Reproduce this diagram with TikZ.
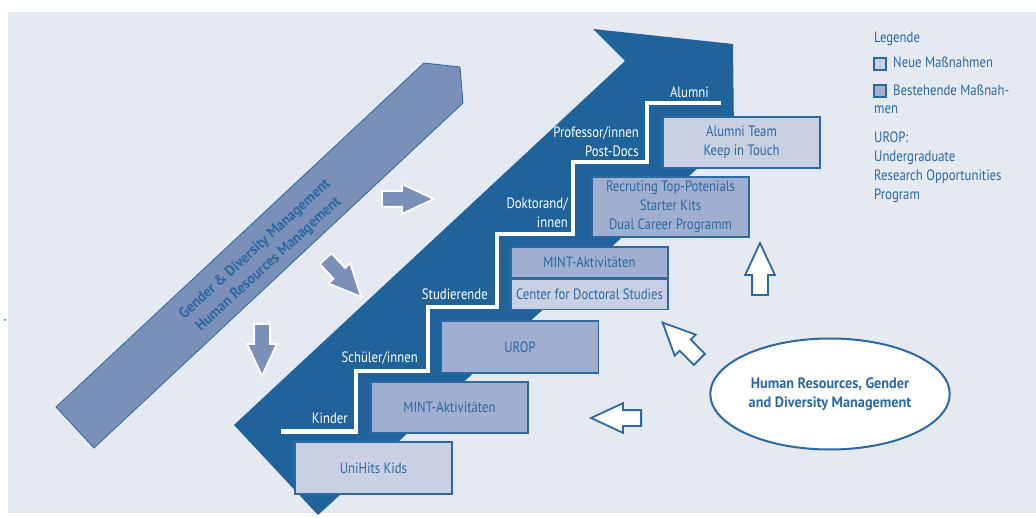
\documentclass[tikz,border=0pt]{standalone}
\usepackage{fontspec}
\setmainfont{PT Sans}[FakeStretch=0.85, BoldFeatures={FakeStretch=0.95}]
\usepackage{tikz}
\usetikzlibrary{shapes,arrows,positioning}

\definecolor{bgblue}{RGB}{228,233,242}
\definecolor{darkblue}{RGB}{31,99,154}
\definecolor{lineblue}{RGB}{44,104,162}
\definecolor{bandblue}{RGB}{122,144,184}
\definecolor{newfill}{RGB}{201,208,228}
\definecolor{oldfill}{RGB}{160,175,207}

\begin{document}
\begin{tikzpicture}[
            x=1pt, y=-1pt,
            txt/.style={font=\fontsize{15}{19}\selectfont},
            measure/.style={rectangle, draw=lineblue, line width=1.2pt, text=lineblue, minimum width=157pt, align=center, inner sep=0pt, txt},
            newbox/.style={measure, fill=newfill},
            oldbox/.style={measure, fill=oldfill},
            steplabel/.style={txt, text=white, align=right, inner sep=0pt},
            legendtxt/.style={txt, text=lineblue, align=left, inner sep=0pt},
            legendkey/.style={rectangle, draw=lineblue, line width=2pt, minimum size=12pt, inner sep=0pt},
            pusharrow/.style={single arrow, draw=white, line width=1.8pt, fill=bandblue, inner sep=7pt, minimum height=52pt, single arrow head extend=7pt, single arrow tip angle=50, anchor=tail},
            pullarrow/.style={pusharrow, draw=lineblue, fill=white}
        ]
            % background
            \useasboundingbox (0,0) rectangle (1036,518);
            \fill[bgblue] (8,12) rectangle (1036,513);
            \fill[darkblue] (5,320) circle (1pt);

            % light band and career arrow
            \draw[lineblue, fill=bandblue, line width=0.8pt] (424,63) -- (460,67) -- (463,103) -- (94,448) -- (56,407) -- cycle;
            \fill[darkblue] (593,29) -- (733,44) -- (734,135) -- (318,515) -- (234,425) -- (625,61) -- cycle;
            \node[font=\fontsize{15}{20}\selectfont\bfseries, text=lineblue, align=center, inner sep=0pt, rotate=42.5] (band) at (262,257) {Gender \& Diversity Management\\Human Resources Management};

            % stairs
            \draw[white, line width=4.5pt] (281,431.5) -| (356,371) -| (428,307) -| (497,234) -| (573,162) -| (647,103) -- (721,103);
            \node[steplabel, anchor=base east] (kinder) at (348,423) {Kinder};
            \node[steplabel, anchor=base east] (schueler) at (418,363) {Schüler/innen};
            \node[steplabel, anchor=base east] (studis) at (488,300) {Studierende};
            \node[steplabel, anchor=south east] (doktor) at (568,228) {Doktorand/\\innen};
            \node[steplabel, anchor=south east] (prof) at (639,157) {Professor/innen\\Post-Docs};
            \node[steplabel, anchor=base east] (alumni) at (709,98) {Alumni};

            % measures
            \node[newbox, minimum height=52pt] (unihits) at (373.5,468) {UniHits Kids};
            \node[oldbox, minimum height=51pt] (mintkids) at (449.5,407.5) {MINT-Aktivitäten};
            \node[oldbox, minimum height=52pt] (urop) at (520,347) {UROP};
            \node[oldbox, minimum height=31pt] (mintstud) at (589.5,262.5) {MINT-Aktivitäten};
            \node[newbox, minimum height=30pt, below=0pt of mintstud] (cds) {Center for Doctoral Studies};
            \node[oldbox, minimum height=60pt] (recruit) at (670.5,207) {Recruting Top-Potenials\\Starter Kits\\Dual Career Programm};
            \node[newbox, minimum height=51pt] (alumniteam) at (741.5,142.5) {Alumni Team\\Keep in Touch};

            % arrows from the band
            \node[pusharrow] (pushright) at (381,199) {};
            \node[pusharrow, rotate=-47] (pushdiag) at (325,258) {};
            \node[pusharrow, rotate=-90] (pushdown) at (262,323) {};

            % central management
            \node[ellipse, draw=lineblue, line width=2pt, fill=white, minimum width=232pt, minimum height=111pt, font=\fontsize{15}{19}\selectfont\bfseries, text=lineblue, align=center] (hrgdm) at (830,394) {Human Resources, Gender\\and Diversity Management};
            \node[pullarrow, rotate=90] (pullup) at (760,296) {};
            \node[pullarrow, rotate=135] (pulldiag) at (700,360) {};
            \node[pullarrow, rotate=180, minimum height=50pt] (pullleft) at (642,418) {};

            % legend
            \node[legendtxt, anchor=base west] (legtitle) at (874,43) {Legende};
            \node[legendkey, fill=newfill] (keynew) at (880,64) {};
            \node[legendtxt, anchor=base west] (txtnew) at (893,68) {Neue Maßnahmen};
            \node[legendkey, fill=oldfill] (keyold) at (880,91) {};
            \node[legendtxt, anchor=base west] (txtold) at (893,96) {Bestehende Maßnah-};
            \node[legendtxt, anchor=base west] (txtold2) at (874,114) {men};
            \node[legendtxt, anchor=north west] (urophint) at (874,131.5) {UROP:\\Undergraduate\\Research Opportunities\\Program};
        \end{tikzpicture}
\end{document}
